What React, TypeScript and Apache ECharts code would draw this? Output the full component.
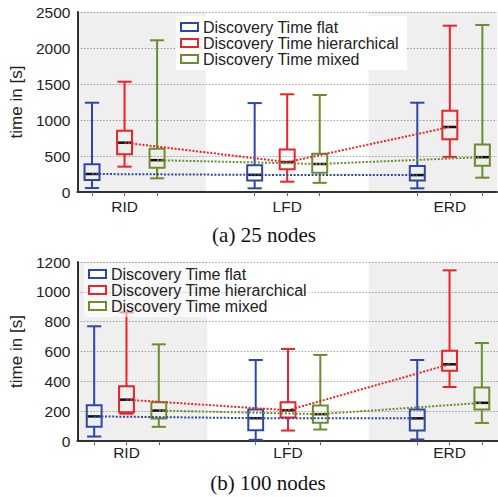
import React, { useEffect, useRef } from "react";
import * as echarts from "echarts";

const categories = ["RID", "LFD", "ERD"];
const seriesNames = ["Discovery Time flat", "Discovery Time hierarchical", "Discovery Time mixed"];
// [low, q1, median, q3, high] per category
const flat25 = [
  [55, 167, 250, 387, 1240],
  [51, 160, 238, 370, 1235],
  [51, 160, 235, 361, 1240],
];
const hier25 = [
  [352, 523, 685, 852, 1532],
  [143, 315, 415, 590, 1357],
  [488, 732, 903, 1130, 2310],
];
const mixed25 = [
  [190, 338, 442, 600, 2107],
  [127, 268, 389, 532, 1347],
  [199, 363, 484, 658, 2320],
];
const flat100 = [
  [30, 95, 165, 240, 769],
  [8, 72, 153, 212, 543],
  [10, 70, 152, 211, 543],
];
const hier100 = [
  [183, 192, 277, 367, 862],
  [70, 157, 206, 260, 617],
  [362, 471, 514, 605, 1144],
];
const mixed100 = [
  [95, 151, 204, 260, 648],
  [77, 123, 180, 238, 577],
  [121, 211, 256, 358, 657],
];
const yTicks25 = [0, 2500, 500];
const yTicks100 = [0, 1200, 200];
const captions = ["(a) 25 nodes", "(b) 100 nodes"];

const COLORS = ["#2c47a5", "#ec2326", "#6b8d2c"];
const OFFSETS = [-0.2, 0, 0.2];
const BOX_W = 0.092;
const FONT = "'Liberation Sans', Arial, sans-serif";

function makeRender(color: string) {
  return (params: any, api: any) => {
    const x = api.value(0);
    const low = api.coord([x, api.value(1)]);
    const q1 = api.coord([x, api.value(2)]);
    const med = api.coord([x, api.value(3)]);
    const q3 = api.coord([x, api.value(4)]);
    const high = api.coord([x, api.value(5)]);
    const w = api.size([BOX_W, 0])[0];
    const cx = low[0];
    const hw = w / 2;
    const cw = hw * 0.95;
    const st = { stroke: color, lineWidth: 2, fill: "none" };
    return {
      type: "group",
      children: [
        { type: "line", shape: { x1: cx, y1: high[1], x2: cx, y2: q3[1] }, style: st },
        { type: "line", shape: { x1: cx, y1: q1[1], x2: cx, y2: low[1] }, style: st },
        { type: "line", shape: { x1: cx - cw, y1: high[1], x2: cx + cw, y2: high[1] }, style: st },
        { type: "line", shape: { x1: cx - cw, y1: low[1], x2: cx + cw, y2: low[1] }, style: st },
        { type: "rect", shape: { x: cx - hw, y: q3[1], width: w, height: q1[1] - q3[1] }, style: st },
        {
          type: "line",
          shape: { x1: cx - hw + 1, y1: med[1], x2: cx + hw - 1, y2: med[1] },
          style: { stroke: "#111", lineWidth: 2.5 },
        },
      ],
    };
  };
}

function buildSeries(groups: number[][][], gi: number, xmin: number, xmax: number) {
  const out: any[] = [];
  out.push({
    type: "line",
    xAxisIndex: gi,
    yAxisIndex: gi,
    data: [],
    silent: true,
    z: 1,
    markArea: {
      silent: true,
      itemStyle: { color: "rgba(0,0,0,0.062)" },
      data: [
        [{ xAxis: xmin }, { xAxis: 0.5 }],
        [{ xAxis: 1.5 }, { xAxis: xmax }],
      ],
    },
  });
  groups.forEach((g, si) => {
    const data = g.map((v, ci) => [ci + OFFSETS[si], ...v]);
    out.push({
      type: "custom",
      name: seriesNames[si],
      xAxisIndex: gi,
      yAxisIndex: gi,
      itemStyle: { color: COLORS[si] },
      renderItem: makeRender(COLORS[si]),
      encode: { x: 0, y: [1, 2, 3, 4, 5] },
      data,
      z: 3,
    });
  });
  groups.forEach((g, si) => {
    out.push({
      type: "line",
      name: "median-" + si,
      xAxisIndex: gi,
      yAxisIndex: gi,
      data: g.map((v, ci) => [ci + OFFSETS[si], v[2]]),
      symbol: "none",
      silent: true,
      lineStyle: { color: COLORS[si], width: 2, type: [2, 1.6] },
      z: 4,
    });
  });
  return out;
}

const tickPositions: number[] = [];
categories.forEach((_, ci) => OFFSETS.forEach((o) => tickPositions.push(ci + o)));

function xAxis(gi: number, min: number, max: number, margin: number) {
  return {
    type: "value",
    gridIndex: gi,
    min,
    max,
    splitLine: { show: false },
    axisLine: { show: true, onZero: false, lineStyle: { color: "#333", width: 2 } },
    axisTick: { show: true, length: 4, customValues: tickPositions, lineStyle: { color: "#666", width: 1 } },
    axisLabel: {
      show: true,
      customValues: [0, 1, 2],
      formatter: (v: number) => categories[Math.round(v)] ?? "",
      fontSize: 15.5,
      fontFamily: FONT,
      color: "#222",
      margin,
    },
  };
}

function yAxis(gi: number, ticks: number[], nameGap: number) {
  return {
    type: "value",
    gridIndex: gi,
    min: ticks[0],
    max: ticks[1],
    interval: ticks[2],
    name: "time in [s]",
    nameLocation: "middle",
    nameGap,
    nameTextStyle: { fontSize: 17, fontFamily: FONT, color: "#222" },
    axisLine: { show: true, onZero: false, lineStyle: { color: "#333", width: 2 } },
    axisTick: { show: false },
    axisLabel: {
      fontSize: 15.5,
      fontFamily: FONT,
      color: "#222",
      margin: 7,
      formatter: (v: number) => String(v),
    },
    splitLine: { show: true, lineStyle: { color: "#aaa", width: 1.2, type: [1.6, 1.6] } },
  };
}

function legend(left: number, top: number, bg: string) {
  return {
    orient: "vertical",
    left,
    top,
    itemGap: 0,
    itemWidth: 17,
    itemHeight: 8,
    padding: [3, 8, 3, 4],
    backgroundColor: bg,
    selectedMode: false,
    textStyle: { fontSize: 16, fontFamily: FONT, color: "#222", lineHeight: 14 },
    data: seriesNames.map((n, i) => ({
      name: n,
      icon: "rect",
      itemStyle: { color: "#fff", borderColor: COLORS[i], borderWidth: 2 },
    })),
  };
}

export default function App() {
  const ref = useRef<HTMLDivElement>(null);
  useEffect(() => {
    if (!ref.current) return;
    const chart = echarts.init(ref.current, undefined, { renderer: "svg" });
    const x0 = [-0.29, 2.29];
    const x1 = [-0.304, 2.3];
    chart.setOption({
      animation: false,
      backgroundColor: "#fff",
      grid: [
        { left: 72, top: 12, width: 425, height: 180 },
        { left: 76, top: 262, width: 425, height: 179 },
      ],
      xAxis: [xAxis(0, x0[0], x0[1], 6), xAxis(1, x1[0], x1[1], 3)],
      yAxis: [yAxis(0, yTicks25, 44), yAxis(1, yTicks100, 43)],
      legend: [legend(176, 16, "#fff"), legend(84, 263, "rgba(255,255,255,0.55)")],
      series: [
        ...buildSeries([flat25, hier25, mixed25], 0, x0[0], x0[1]),
        ...buildSeries([flat100, hier100, mixed100], 1, x1[0], x1[1]),
      ],
      graphic: [
        {
          type: "text",
          x: 264,
          y: 235,
          style: {
            text: captions[0],
            fontSize: 21,
            fontFamily: "'Liberation Serif', 'Times New Roman', serif",
            fill: "#111",
            align: "center",
            verticalAlign: "middle",
          },
        },
        {
          type: "text",
          x: 268,
          y: 483,
          style: {
            text: captions[1],
            fontSize: 21,
            fontFamily: "'Liberation Serif', 'Times New Roman', serif",
            fill: "#111",
            align: "center",
            verticalAlign: "middle",
          },
        },
      ],
    });
    return () => chart.dispose();
  }, []);
  return (
    <div
      ref={ref}
      style={{ position: "fixed", left: 0, top: 0, width: 498, height: 497 }}
    />
  );
}
